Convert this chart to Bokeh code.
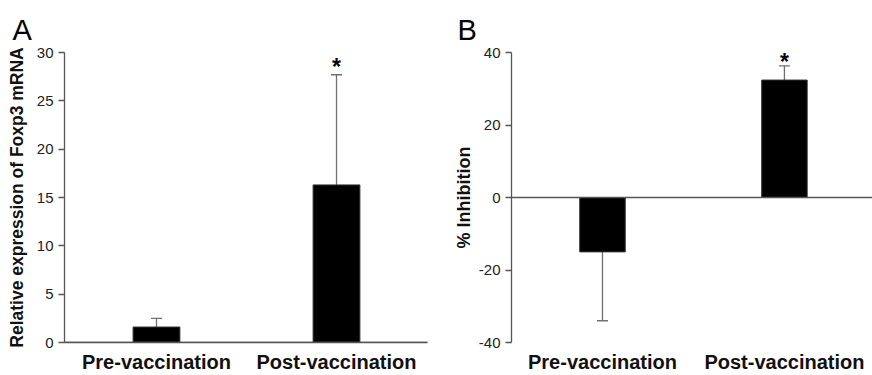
from bokeh.plotting import figure
from bokeh.models import Range1d, Span, Label, FixedTicker
from bokeh.layouts import row
from bokeh.embed import file_html
from bokeh.resources import INLINE

# ---- data ----
categories = ["Pre-vaccination", "Post-vaccination"]
xpos = [1, 3]
foxp3_mean = [1.6, 16.3]
foxp3_err = [0.9, 11.4]
inhib_mean = [-15.0, 32.4]
inhib_err = [19.0, 3.9]
significant = [False, True]
foxp3_ticks = [0, 5, 10, 15, 20, 25, 30]
inhib_ticks = [-40, -20, 0, 20, 40]
panel_letters = ["A", "B"]
ylabels = ["Relative expression of Foxp3 mRNA", "% Inhibition"]

FONT = "Liberation Sans"
AXIS_COLOR = "#555555"
ERR_COLOR = "#707070"
H = 375


def make_panel(width, b_left, b_right, b_top, b_bottom, xr, yr, ticks,
               means, errs, ylabel, letter, letter_offset, bar_w, label_standoff,
               show_xaxis_line, ylabel_size, star_px):
    p = figure(width=width, height=H, output_backend="svg", toolbar_location=None,
               x_range=Range1d(*xr), y_range=Range1d(*yr),
               min_border_left=b_left, min_border_right=b_right,
               min_border_top=b_top, min_border_bottom=b_bottom)
    p.outline_line_color = None
    p.background_fill_color = "white"
    p.border_fill_color = "white"
    p.xgrid.visible = False
    p.ygrid.visible = False

    # panel letter as title
    p.title.text = letter
    p.title.text_font = FONT
    p.title.text_font_size = "29px"
    p.title.text_font_style = "normal"
    p.title.text_color = "black"
    p.title.align = "left"
    p.title.offset = letter_offset
    p.title.standoff = 14

    # category axis
    xa = p.xaxis[0]
    xa.ticker = FixedTicker(ticks=xpos)
    xa.major_label_overrides = {x: c for x, c in zip(xpos, categories)}
    xa.major_tick_out = 0
    xa.major_tick_in = 0
    xa.minor_tick_out = 0
    xa.minor_tick_in = 0
    xa.axis_line_color = AXIS_COLOR if show_xaxis_line else None
    xa.axis_line_width = 1.3
    xa.major_label_text_font = FONT
    xa.major_label_text_font_size = "20px"
    xa.major_label_text_font_style = "bold"
    xa.major_label_text_color = "#111111"
    xa.major_label_standoff = 8

    ya = p.yaxis[0]
    ya.ticker = FixedTicker(ticks=ticks)
    ya.major_label_overrides = {t: str(t) for t in ticks}
    ya.major_tick_out = 6
    ya.major_tick_in = 0
    ya.minor_tick_out = 0
    ya.minor_tick_in = 0
    ya.axis_line_color = AXIS_COLOR
    ya.axis_line_width = 1.3
    ya.major_tick_line_color = AXIS_COLOR
    ya.major_tick_line_width = 1.3
    ya.major_label_text_font = FONT
    ya.major_label_text_font_size = "15px"
    ya.major_label_text_color = "#222222"
    ya.major_label_standoff = 5
    ya.axis_label = ylabel
    ya.axis_label_text_font = FONT
    ya.axis_label_text_font_size = ylabel_size
    ya.axis_label_text_font_style = "bold"
    ya.axis_label_text_color = "#111111"
    ya.axis_label_standoff = label_standoff

    # zero line
    p.add_layout(Span(location=0, dimension="width", line_color=AXIS_COLOR,
                      line_width=1.3))

    frame_w = width - b_left - b_right
    frame_h = H - b_top - b_bottom
    ppx = frame_w / (xr[1] - xr[0])
    ppy = frame_h / (yr[1] - yr[0])

    tips = [m + e if m >= 0 else m - e for m, e in zip(means, errs)]
    cap = 5.5 / ppx
    p.segment(x0=xpos, y0=means, x1=xpos, y1=tips, line_color=ERR_COLOR, line_width=1.3)
    p.segment(x0=[x - cap for x in xpos], y0=tips, x1=[x + cap for x in xpos], y1=tips,
              line_color=ERR_COLOR, line_width=1.3)
    p.vbar(x=xpos, width=bar_w, bottom=0, top=means, fill_color="black",
           line_color="#333333", line_width=1)

    star_gap = star_px / ppy
    for x, t, s in zip(xpos, tips, significant):
        if s:
            p.add_layout(Label(x=x, y=t + star_gap, text="*", text_font=FONT,
                               text_font_size="23px", text_font_style="bold",
                               text_align="center", text_baseline="alphabetic",
                               text_color="black"))
    return p


pA = make_panel(436, 64, 9, 52, 32, (-0.022, 4.011), (0, 30), foxp3_ticks,
                foxp3_mean, foxp3_err, ylabels[0], panel_letters[0], -52, 0.52, 7, True,
                "17.5px", 8)
pB = make_panel(436, 75, 0, 52, 33, (0.0, 3.968), (-40, 40), inhib_ticks,
                inhib_mean, inhib_err, ylabels[1], panel_letters[1], -54, 0.5, 2, False,
                "18px", 4)

layout = row(pA, pB)
open("out.html", "w").write(file_html(layout, INLINE))
